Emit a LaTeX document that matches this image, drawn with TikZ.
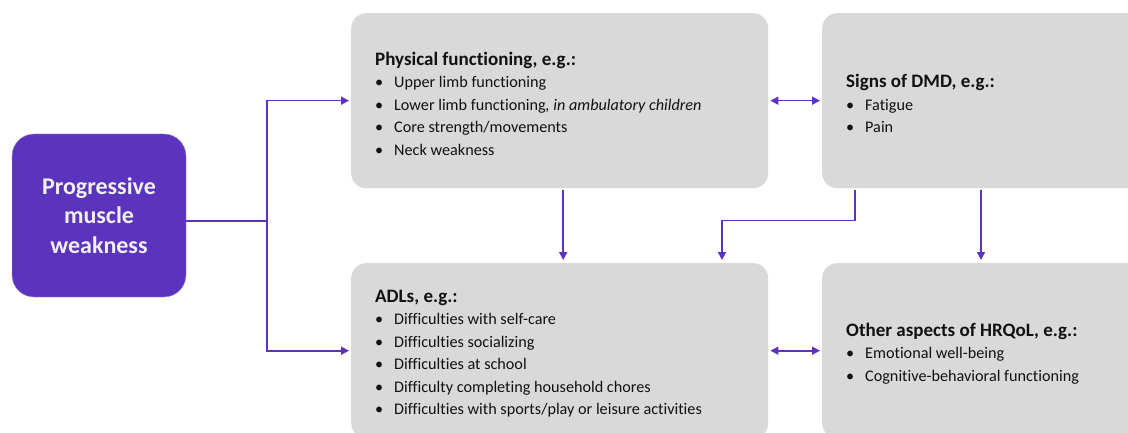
\documentclass[tikz,border=0pt]{standalone}
\usepackage{fontspec}
\setmainfont{Carlito}[Ligatures={NoCommon}]
\usepackage{xcolor}
\usetikzlibrary{positioning,arrows.meta}

\definecolor{dmdpurple}{HTML}{5B33BD}
\definecolor{boxgray}{HTML}{D9D9D9}
\definecolor{txtdark}{HTML}{111111}
\newcommand{\itm}[1]{\makebox[19pt][l]{\textbullet}#1}
\newcommand{\hdr}[1]{{\fontsize{19}{22.5}\selectfont\bfseries #1}}

\begin{document}
\begin{tikzpicture}[x=1pt,y=-1pt,
    panel/.style={fill=boxgray,rounded corners=15pt,minimum width=417pt,
        minimum height=175pt,inner sep=0pt},
    list/.style={align=left,text=txtdark,inner sep=0pt,yshift=-3pt,
        font=\fontsize{16.2}{22.5}\selectfont},
    link/.style={draw=dmdpurple,line width=1.6pt},
    tip/.style={-{Triangle[length=8pt,width=8pt]}},
    tips/.style={{Triangle[length=8pt,width=8pt]}-{Triangle[length=8pt,width=8pt]}}]
\useasboundingbox (0,0) rectangle (1128,433);
\clip (0,0) rectangle (1128,433);

\path
    [anchor=north west]
    (351,13) node [panel] (phys) {}
    (822,13) node [panel] (signs) {}
    (351,263) node [panel] (adl) {}
    (822,263) node [panel] (other) {};
\path
    (99,215.5) node [fill=dmdpurple,draw=dmdpurple!55!white,rounded corners=22pt,
        minimum width=174pt,minimum height=163pt,text=white!94!black,align=center,
        font=\fontsize{24}{29.5}\selectfont\bfseries] (prog)
        {Progressive\\muscle\\weakness};

\node [list,right=24pt of phys.west] (physT)
    {\hdr{Physical functioning, e.g.:}\\
     \itm{Upper limb functioning}\\
     \itm{Lower limb functioning\textit{, in ambulatory children}}\\
     \itm{Core strength/movements}\\
     \itm{Neck weakness}};
\node [list,right=24pt of signs.west] (signsT)
    {\hdr{Signs of DMD, e.g.:}\\
     \itm{Fatigue}\\
     \itm{Pain}};
\node [list,right=24pt of adl.west] (adlT)
    {\hdr{ADLs, e.g.:}\\
     \itm{Difficulties with self-care}\\
     \itm{Difficulties socializing}\\
     \itm{Difficulties at school}\\
     \itm{Difficulty completing household chores}\\
     \itm{Difficulties with sports/play or leisure activities}};
\node [list,right=24pt of other.west] (otherT)
    {\hdr{Other aspects of HRQoL, e.g.:}\\
     \itm{Emotional well-being}\\
     \itm{Cognitive-behavioral functioning}};

\coordinate (split) at (267,221);
\draw [link] ([yshift=-5.5pt]prog.east) -- (split);
\draw [link,tip,shorten >=2pt] (split) |- (phys.west);
\draw [link,tip,shorten >=2pt] (split) |- (adl.west);
\draw [link,tips,shorten >=2pt,shorten <=2pt] (phys.east) -- (signs.west);
\draw [link,tips,shorten >=2pt,shorten <=2pt] (adl.east) -- (other.west);
\draw [link,tip,shorten >=3pt,shorten <=2pt]
    ([xshift=3.5pt]phys.south) -- ([xshift=3.5pt]adl.north);
\draw [link,tip,shorten >=3pt,shorten <=2pt]
    ([xshift=33pt]signs.south west) -- ++(0,32) -| ([xshift=371pt]adl.north west);
\draw [link,tip,shorten >=3pt,shorten <=2pt]
    ([xshift=159pt]signs.south west) -- ([xshift=159pt]other.north west);
\end{tikzpicture}
\end{document}
